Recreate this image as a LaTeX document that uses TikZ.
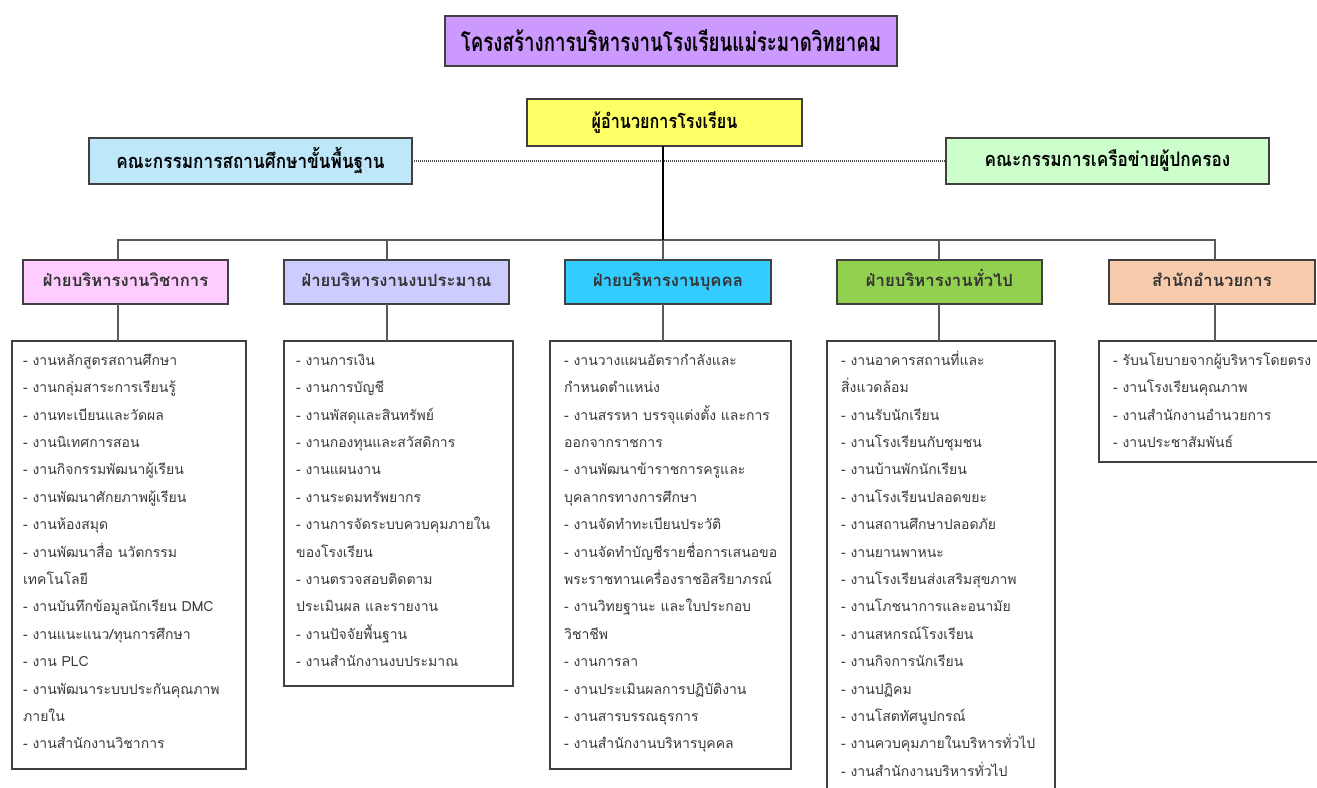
\documentclass[tikz,border=0pt]{standalone}
\usepackage{fontspec}
\newfontfamily\thai[Script=Thai]{Loma}
\definecolor{boxline}{HTML}{404040}
\definecolor{conn}{HTML}{595959}
\definecolor{txt}{HTML}{3A3A3A}
\definecolor{cTitle}{HTML}{CC99FF}
\definecolor{cDir}{HTML}{FFFF66}
\definecolor{cKL}{HTML}{BFE7FA}
\definecolor{cKR}{HTML}{CCFFCC}
\definecolor{cH1}{HTML}{FFCCFF}
\definecolor{cH2}{HTML}{CCCCFF}
\definecolor{cH3}{HTML}{33CCFF}
\definecolor{cH4}{HTML}{92D050}
\definecolor{cH5}{HTML}{F8CBAD}
\begin{document}
\begin{tikzpicture}[x=1pt,y=-1pt,
  frame/.style={draw=boxline, line width=1.2pt, anchor=north west, inner sep=0pt, outer sep=0pt},
  topbox/.style={frame, font=\thai\bfseries\fontsize{20}{24}\selectfont, text=black},
  hdr/.style={frame, font=\thai\bfseries\fontsize{16.7}{20}\selectfont, text=black!80,
              text height=13pt, text depth=4pt},
  listbox/.style={frame, fill=white},
  lst/.style={anchor=north west, inner sep=0pt, align=left, text=txt,
              font=\thai\fontsize{14}{27.4}\selectfont},
  link/.style={draw=conn, line width=1.3pt},
]
\useasboundingbox (0,0) rectangle (1317,787);
\clip (0,0) rectangle (1317,787);

% top row
\node[topbox, fill=cTitle, minimum width=452pt, minimum height=50pt] (title) at (445,16)
  {\scalebox{0.72}[1]{\fontsize{26}{30}\selectfont โครงสร้างการบริหารงานโรงเรียนแม่ระมาดวิทยาคม}};
\node[topbox, fill=cDir, minimum width=275pt, minimum height=47pt] (dir) at (527,99)
  {\scalebox{0.81}[1]{ผู้อำนวยการโรงเรียน}};
\node[topbox, fill=cKL, minimum width=323pt, minimum height=46pt] (kl) at (89,138)
  {\scalebox{0.86}[1]{คณะกรรมการสถานศึกษาขั้นพื้นฐาน}};
\node[topbox, fill=cKR, minimum width=323pt, minimum height=46pt] (kr) at (946,138)
  {\scalebox{0.86}[1]{คณะกรรมการเครือข่ายผู้ปกครอง}};

\draw[black!70, line width=1.1pt, dash pattern=on 1pt off 1pt] (kl.east) -- (kr.west);

% headers
\node[hdr, fill=cH1, minimum width=205pt, minimum height=44pt] (h1) at (23,260) {ฝ่ายบริหารงานวิชาการ};
\node[hdr, fill=cH2, minimum width=225pt, minimum height=44pt] (h2) at (284,260) {ฝ่ายบริหารงานงบประมาณ};
\node[hdr, fill=cH3, minimum width=206pt, minimum height=44pt] (h3) at (565,260) {ฝ่ายบริหารงานบุคคล};
\node[hdr, fill=cH4, minimum width=205pt, minimum height=44pt] (h4) at (837,260) {ฝ่ายบริหารงานทั่วไป};
\node[hdr, fill=cH5, minimum width=206pt, minimum height=44pt] (h5) at (1109,260) {สำนักอำนวยการ};

% list boxes
\node[listbox, minimum width=234pt, minimum height=428pt] (b1) at (12,341) {};
\node[listbox, minimum width=229pt, minimum height=345pt] (b2) at (284,341) {};
\node[listbox, minimum width=241pt, minimum height=428pt] (b3) at (550,341) {};
\node[listbox, minimum width=228pt, minimum height=470pt] (b4) at (827,341) {};
\node[listbox, minimum width=240pt, minimum height=121pt] (b5) at (1099,341) {};

% junctions on the bus
\coordinate (bus) at (663,240);
\coordinate (j1) at (118,240);
\coordinate (j2) at (387,240);
\coordinate (j3) at (663,240);
\coordinate (j4) at (939,240);
\coordinate (j5) at (1215,240);

% connectors
\draw[link] (j1 |- h1.north) -- (j1) -- (j5) -- (j5 |- h5.north);
\draw[link] (j2) -- (j2 |- h2.north);
\draw[link] (j3) -- (j3 |- h3.north);
\draw[link] (j4) -- (j4 |- h4.north);
\draw[black, line width=2.2pt] (dir.south -| bus) -- (bus);
\draw[link] (j1 |- h1.south) -- (j1 |- b1.north);
\draw[link] (j2 |- h2.south) -- (j2 |- b2.north);
\draw[link] (j3 |- h3.south) -- (j3 |- b3.north);
\draw[link] (j4 |- h4.south) -- (j4 |- b4.north);
\draw[link] (j5 |- h5.south) -- (j5 |- b5.north);

% texts
\node[lst] (t1) at (23,349) {\rule{0pt}{16pt}- งานหลักสูตรสถานศึกษา\\
- งานกลุ่มสาระการเรียนรู้\\
- งานทะเบียนและวัดผล\\
- งานนิเทศการสอน\\
- งานกิจกรรมพัฒนาผู้เรียน\\
- งานพัฒนาศักยภาพผู้เรียน\\
- งานห้องสมุด\\
- งานพัฒนาสื่อ นวัตกรรม\\
เทคโนโลยี\\
- งานบันทึกข้อมูลนักเรียน DMC\\
- งานแนะแนว/ทุนการศึกษา\\
- งาน PLC\\
- งานพัฒนาระบบประกันคุณภาพ\\
ภายใน\\
- งานสำนักงานวิชาการ};

\node[lst] (t2) at (296,349) {\rule{0pt}{16pt}- งานการเงิน\\
- งานการบัญชี\\
- งานพัสดุและสินทรัพย์\\
- งานกองทุนและสวัสดิการ\\
- งานแผนงาน\\
- งานระดมทรัพยากร\\
- งานการจัดระบบควบคุมภายใน\\
ของโรงเรียน\\
- งานตรวจสอบติดตาม\\
ประเมินผล และรายงาน\\
- งานปัจจัยพื้นฐาน\\
- งานสำนักงานงบประมาณ};

\node[lst] (t3) at (564,349) {\rule{0pt}{16pt}- งานวางแผนอัตรากำลังและ\\
กำหนดตำแหน่ง\\
- งานสรรหา บรรจุแต่งตั้ง และการ\\
ออกจากราชการ\\
- งานพัฒนาข้าราชการครูและ\\
บุคลากรทางการศึกษา\\
- งานจัดทำทะเบียนประวัติ\\
- งานจัดทำบัญชีรายชื่อการเสนอขอ\\
พระราชทานเครื่องราชอิสริยาภรณ์\\
- งานวิทยฐานะ และใบประกอบ\\
วิชาชีพ\\
- งานการลา\\
- งานประเมินผลการปฏิบัติงาน\\
- งานสารบรรณธุรการ\\
- งานสำนักงานบริหารบุคคล};

\node[lst] (t4) at (841,349) {\rule{0pt}{16pt}- งานอาคารสถานที่และ\\
สิ่งแวดล้อม\\
- งานรับนักเรียน\\
- งานโรงเรียนกับชุมชน\\
- งานบ้านพักนักเรียน\\
- งานโรงเรียนปลอดขยะ\\
- งานสถานศึกษาปลอดภัย\\
- งานยานพาหนะ\\
- งานโรงเรียนส่งเสริมสุขภาพ\\
- งานโภชนาการและอนามัย\\
- งานสหกรณ์โรงเรียน\\
- งานกิจการนักเรียน\\
- งานปฏิคม\\
- งานโสตทัศนูปกรณ์\\
- งานควบคุมภายในบริหารทั่วไป\\
- งานสำนักงานบริหารทั่วไป};

\node[lst] (t5) at (1113,349) {\rule{0pt}{16pt}- รับนโยบายจากผู้บริหารโดยตรง\\
- งานโรงเรียนคุณภาพ\\
- งานสำนักงานอำนวยการ\\
- งานประชาสัมพันธ์};
\end{tikzpicture}
\end{document}
